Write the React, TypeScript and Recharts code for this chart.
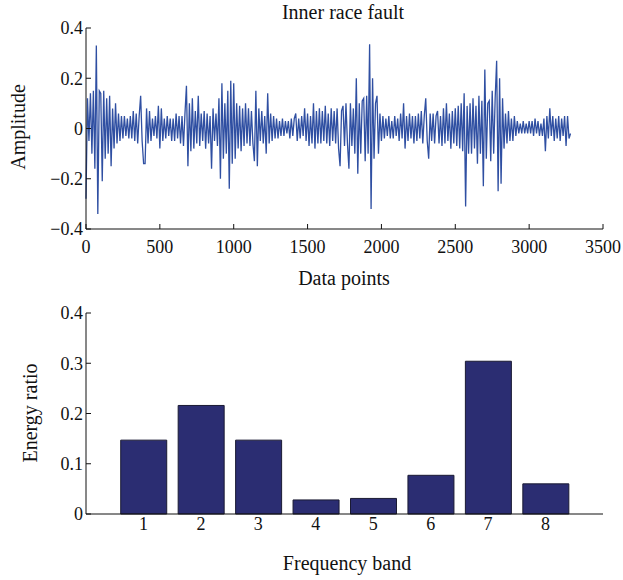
import { LineChart, Line, BarChart, Bar, XAxis, YAxis } from 'recharts';

// vibration signal, one value every 10 data points
const amplitude: number[] = [
	-0.28, 0.12, -0.05, 0.14, -0.1, 0.15, -0.16, 0.33, -0.34, 0.15,
	0.14, -0.21, 0.15, -0.12, 0.12, -0.1, 0.13, -0.15, 0.08, -0.08,
	0.1, -0.06, 0.06, -0.05, 0.05, -0.04, 0.05, -0.03, 0.04, -0.04,
	0.05, -0.04, 0.07, -0.05, 0.06, -0.06, 0.05, 0.13, -0.05, -0.14,
	-0.14, 0.08, -0.06, 0.07, -0.05, 0.04, -0.03, 0.05, -0.04, 0.09,
	-0.08, 0.08, -0.05, 0.04, -0.04, 0.05, -0.03, 0.04, -0.05, 0.04,
	-0.05, 0.06, -0.04, 0.05, -0.06, 0.05, -0.07, 0.06, 0.17, -0.15,
	0.1, -0.09, 0.12, -0.08, 0.07, -0.06, 0.13, -0.07, 0.06, -0.05,
	0.07, -0.08, 0.06, -0.06, 0.05, -0.16, 0.08, -0.05, 0.06, -0.07,
	0.12, -0.2, 0.18, -0.12, 0.1, -0.1, 0.15, -0.24, 0.19, -0.14,
	0.18, -0.12, 0.1, -0.08, 0.09, -0.09, 0.08, -0.07, 0.1, -0.06,
	0.08, -0.07, 0.07, -0.06, -0.13, 0.15, -0.15, 0.08, -0.05, 0.07,
	-0.06, 0.05, -0.1, 0.14, -0.06, 0.06, -0.05, 0.05, -0.04, 0.04,
	-0.04, 0.03, -0.03, 0.04, -0.03, 0.03, -0.02, 0.03, -0.04, 0.04,
	-0.03, 0.04, 0.06, -0.05, 0.04, -0.04, 0.05, -0.03, 0.08, -0.05,
	0.06, -0.07, 0.05, -0.06, 0.1, -0.08, 0.07, -0.06, 0.08, -0.06,
	0.07, -0.05, 0.09, -0.06, 0.06, -0.07, 0.08, -0.05, 0.07, -0.06,
	0.08, -0.08, -0.15, 0.07, 0.09, -0.07, 0.1, -0.06, -0.16, 0.1,
	-0.07, 0.08, -0.1, 0.2, -0.18, 0.1, -0.1, 0.11, 0.12, -0.13,
	0.13, -0.1, 0.335, -0.32, 0.2, -0.12, 0.1, 0.13, -0.1, 0.06,
	-0.05, 0.05, -0.04, 0.04, -0.03, 0.05, -0.04, 0.03, -0.04, 0.05,
	-0.03, 0.04, -0.05, 0.06, -0.04, 0.1, -0.08, 0.05, -0.05, 0.06,
	-0.04, 0.05, -0.06, 0.05, -0.05, 0.06, -0.04, 0.07, -0.06, 0.05,
	0.12, -0.05, -0.12, 0.06, -0.05, 0.06, -0.06, 0.05, 0.07, -0.06,
	0.05, -0.07, 0.08, -0.06, 0.1, -0.05, 0.06, -0.08, 0.07, -0.06,
	0.08, -0.07, 0.09, -0.08, 0.1, -0.09, 0.14, -0.31, 0.09, -0.1,
	0.1, -0.1, 0.12, -0.08, 0.09, -0.14, 0.13, -0.1, 0.11, -0.23,
	0.235, -0.12, 0.1, 0.11, -0.13, 0.15, -0.1, 0.12, 0.27, -0.25,
	0.2, -0.22, 0.12, -0.08, 0.06, -0.06, 0.07, -0.05, 0.04, -0.05,
	0.05, -0.03, 0.03, -0.02, 0.02, -0.02, 0.03, -0.02, 0.02, -0.02,
	0.03, -0.02, 0.03, -0.03, 0.04, -0.02, 0.03, -0.03, 0.02, -0.03,
	0.04, -0.09, 0.05, -0.04, 0.08, -0.03, 0.05, -0.05, 0.04, -0.04,
	0.05, -0.05, 0.04, -0.03, 0.05, -0.07, 0.05, -0.04, -0.02,
];
const signal = amplitude.map((y, i) => ({ x: i * 10, y }));

const signalXTicks = [0, 500, 1000, 1500, 2000, 2500, 3000, 3500];
const signalYTicks = [-0.4, -0.2, 0, 0.2, 0.4];

const bands = [1, 2, 3, 4, 5, 6, 7, 8];
const energyRatio = [0.147, 0.216, 0.147, 0.028, 0.031, 0.077, 0.304, 0.06];
const energyYTicks = [0, 0.1, 0.2, 0.3, 0.4];

const energy = bands.map((band, i) => ({ band, ratio: energyRatio[i] }));

const font = '"Liberation Serif", "DejaVu Serif", serif';
const tickStyle = { fontFamily: font, fontSize: 18, fill: '#111' };
const axisStroke = '#111';

const minus = (v: number) => (v < 0 ? '\u2212' + Math.abs(v) : String(v));

const label = (text: string, left: number, top: number, rotate = false) => (
	<div
		style={{
			position: 'absolute',
			left,
			top,
			transform: rotate ? 'translate(-50%, -50%) rotate(-90deg)' : 'translate(-50%, -50%)',
			fontFamily: font,
			fontSize: 20,
			color: '#111',
			whiteSpace: 'nowrap',
		}}
	>
		{text}
	</div>
);

const App = () => {
	return (
		<div style={{ position: 'absolute', left: 0, top: 0, width: 623, height: 580, background: '#fff' }}>
			<div style={{ position: 'absolute', left: 0, top: 0 }}>
				<LineChart width={623} height={290} data={signal} margin={{ top: 28, right: 20, left: 36, bottom: 31 }}>
					<XAxis
						dataKey="x"
						type="number"
						domain={[0, 3500]}
						ticks={signalXTicks}
						tickSize={-5}
						tickMargin={16}
						stroke={axisStroke}
						tick={tickStyle}
						height={30}
						interval={0}
					/>
					<XAxis
						xAxisId="top"
						orientation="top"
						dataKey="x"
						type="number"
						domain={[0, 3500]}
						ticks={signalXTicks}
						tickSize={-5}
						tickFormatter={() => ''}
						stroke={axisStroke}
						height={0}
						interval={0}
					/>
					<YAxis
						type="number"
						domain={[-0.4, 0.4]}
						ticks={signalYTicks}
						tickSize={-5}
						tickMargin={8}
						tickFormatter={minus}
						stroke={axisStroke}
						tick={tickStyle}
						width={50}
						interval={0}
					/>
					<YAxis
						yAxisId="right"
						orientation="right"
						type="number"
						domain={[-0.4, 0.4]}
						ticks={signalYTicks}
						tickSize={-5}
						tickFormatter={() => ''}
						stroke={axisStroke}
						width={0}
						interval={0}
					/>
					<Line
						type="linear"
						dataKey="y"
						stroke="#2f4fa2"
						strokeWidth={1.3}
						dot={false}
						isAnimationActive={false}
					/>
				</LineChart>
			</div>
			<div style={{ position: 'absolute', left: 0, top: 290 }}>
				<BarChart width={623} height={290} data={energy} margin={{ top: 23, right: 20, left: 36, bottom: 36 }}>
					<XAxis
						dataKey="band"
						type="number"
						domain={[0, 9]}
						ticks={bands}
						tickLine={false}
						tickSize={0}
						tickMargin={3}
						stroke={axisStroke}
						tick={tickStyle}
						height={30}
						interval={0}
					/>
					<XAxis
						xAxisId="top"
						orientation="top"
						dataKey="band"
						type="number"
						domain={[0, 9]}
						ticks={bands}
						tickSize={-5}
						tickFormatter={() => ''}
						stroke={axisStroke}
						height={0}
						interval={0}
					/>
					<YAxis
						type="number"
						domain={[0, 0.4]}
						ticks={energyYTicks}
						tickSize={-5}
						tickMargin={8}
						stroke={axisStroke}
						tick={tickStyle}
						width={50}
						interval={0}
					/>
					<YAxis
						yAxisId="right"
						orientation="right"
						type="number"
						domain={[0, 0.4]}
						ticks={energyYTicks}
						tickSize={-5}
						tickFormatter={() => ''}
						stroke={axisStroke}
						width={0}
						interval={0}
					/>
					<Bar dataKey="ratio" fill="#2b2d72" stroke="#1a1a33" strokeWidth={1} barSize={46} isAnimationActive={false} />
				</BarChart>
			</div>
			{label('Inner race fault', 343, 12)}
			{label('Amplitude', 18, 127, true)}
			{label('Data points', 344, 278)}
			{label('Energy ratio', 30, 413, true)}
			{label('Frequency band', 347, 563)}
		</div>
	);
};

export default App;
